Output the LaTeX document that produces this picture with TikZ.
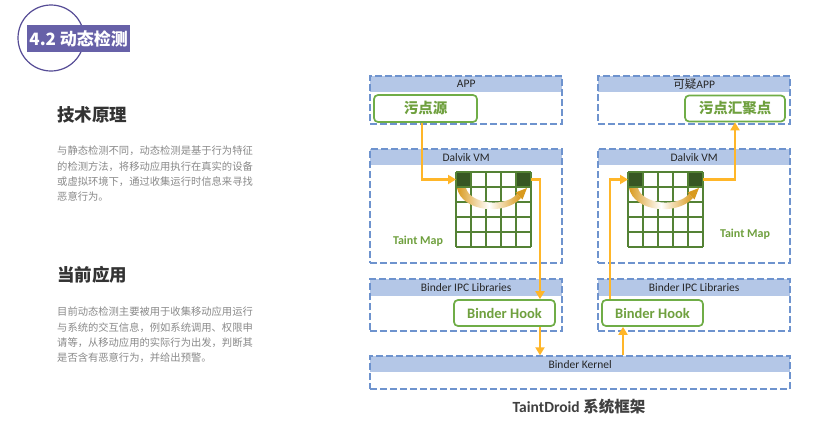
\documentclass[tikz,border=0pt]{standalone}
\usepackage{fontspec}
\setmainfont{Carlito}
\newfontfamily\cjk{Noto Sans CJK SC}
\usetikzlibrary{arrows.meta}
\definecolor{hdrblue}{HTML}{B4C7E7}
\definecolor{dashblue}{HTML}{6E93CE}
\definecolor{gboxc}{HTML}{70AD47}
\definecolor{gtext}{HTML}{6FA03E}
\definecolor{gridc}{HTML}{548235}
\definecolor{darkg}{HTML}{375623}
\definecolor{flowc}{HTML}{FFB629}
\definecolor{curvc}{HTML}{D99A1E}
\definecolor{purp}{HTML}{6761A8}
\definecolor{purpline}{HTML}{564C96}
\definecolor{headc}{HTML}{333333}
\definecolor{parac}{HTML}{8A8A8A}
\definecolor{capc}{HTML}{404040}

% name, x1, y1, x2, y2, header bottom, title
\newcommand\layerbox[7]{%
  \node[hdr, minimum width={(#4-#2)*1pt}, minimum height={(#6-#3)*1pt}, anchor=north west] (#1-h) at (#2,#3) {#7};
  \node[layer, minimum width={(#4-#2)*1pt}, minimum height={(#5-#3)*1pt}] (#1) at ({(#2+#4)/2},{(#3+#5)/2}) {};
}
% name, x0, y0
\newcommand\taintgrid[3]{%
  \begin{scope}[shift={(#2,#3)}]
    \fill[white] (0,0) rectangle (75,75);
    \fill[darkg] (0,0) rectangle (15,15);
    \fill[darkg] (60,0) rectangle (75,15);
    \foreach \i in {0,...,5} {
      \draw[gridc, line width=1.3pt] ({15*\i},0) -- ({15*\i},75);
      \draw[gridc, line width=1.3pt] (0,{15*\i}) -- (75,{15*\i});
    }
    \coordinate (#1-in) at (0,7.5);
    \coordinate (#1-out) at (75,7.5);
    \shade[left color=curvc, right color=curvc, middle color=white]
      (10,16) .. controls (14,32) and (49,36) .. (61,22)
      -- (65,26) .. controls (49,44) and (6,40) .. (1,16) -- cycle;
    \fill[curvc] (71,16) -- (59.5,20.5) -- (66.5,27.5) -- cycle;
  \end{scope}
}

\begin{document}
\begin{tikzpicture}[x=1pt,y=-1pt,
  layer/.style={draw=dashblue, line width=1.4pt, dash pattern=on 7pt off 3pt, fill=none, inner sep=0},
  hdr/.style={fill=hdrblue, inner sep=0, font=\fontsize{11.5}{13}\selectfont, text=black!85},
  gbox/.style={draw=gboxc, line width=1.7pt, rounded corners=4pt, fill=white, inner sep=0, text=gtext, font=\fontsize{14.5}{16}\selectfont\bfseries},
  flow/.style={draw=flowc, line width=2.6pt, -{Triangle[length=8pt,width=9pt]}},
  headtxt/.style={anchor=west, inner sep=0, text=headc, font=\cjk\fontsize{17.5}{20}\selectfont\bfseries},
  paratxt/.style={anchor=base west, inner sep=0, text=parac, font=\cjk\fontsize{10.3}{12}\selectfont},
  tmap/.style={text=gtext, inner sep=0, font=\fontsize{12}{14}\selectfont\bfseries},
]
\fill[white] (0,0) rectangle (831,426);
\useasboundingbox (0,0) rectangle (831,426);

% title
\draw[purpline, line width=1.2pt] (51,38) circle[radius=33];
\node[fill=purp, minimum width=103pt, minimum height=27pt, inner sep=0, anchor=north west,
      text=white, font=\cjk\fontsize{17}{20}\selectfont\bfseries] (title) at (27,25) {4.2 动态检测};

% left texts
\node[headtxt] (h1) at (57,115) {技术原理};
\node[paratxt] (p1a) at (57,154) {与静态检测不同，动态检测是基于行为特征};
\node[paratxt] (p1b) at (57,170) {的检测方法，将移动应用执行在真实的设备};
\node[paratxt] (p1c) at (57,185) {或虚拟环境下，通过收集运行时信息来寻找};
\node[paratxt] (p1d) at (57,200) {恶意行为。};

\node[headtxt] (h2) at (57,275) {当前应用};
\node[paratxt] (p2a) at (57,315) {目前动态检测主要被用于收集移动应用运行};
\node[paratxt] (p2b) at (57,331) {与系统的交互信息，例如系统调用、权限申};
\node[paratxt] (p2c) at (57,346) {请等，从移动应用的实际行为出发，判断其};
\node[paratxt] (p2d) at (57,361) {是否含有恶意行为，并给出预警。};

% layers
\layerbox{app}{370}{76}{562}{124}{92}{APP}
\layerbox{vmL}{370}{149}{562}{263}{165}{Dalvik VM}
\layerbox{ipcL}{370}{279}{562}{331}{296}{Binder IPC Libraries}
\layerbox{appR}{598}{76}{790}{124}{92}{{\cjk 可疑}APP}
\layerbox{vmR}{598}{149}{790}{263}{165}{Dalvik VM}
\layerbox{ipcR}{598}{279}{790}{331}{296}{Binder IPC Libraries}
\layerbox{kernel}{370}{356}{790}{389}{372}{Binder Kernel}

% green boxes
\node[gbox, minimum width=103pt, minimum height=27pt] (src) at (425.5,108.5) {\cjk 污点源};
\node[gbox, minimum width=100pt, minimum height=26pt] (sink) at (735,108.5) {\cjk 污点汇聚点};
\node[gbox, minimum width=101pt, minimum height=26pt] (hookL) at (504.5,313) {Binder Hook};
\node[gbox, minimum width=101pt, minimum height=26pt] (hookR) at (652.5,313) {Binder Hook};

% grids
\taintgrid{gL}{456}{172}
\taintgrid{gR}{628}{172}
\node[tmap] (tmL) at (418,241) {Taint Map};
\node[tmap] (tmR) at (745,234) {Taint Map};

% flows
\coordinate (srcx) at ([xshift=-3.5pt]src.south);
\coordinate (hLt) at ([xshift=35.5pt]hookL.north);
\coordinate (hLb) at ([xshift=35.5pt]hookL.south);
\coordinate (hRb) at ([xshift=-29.5pt]hookR.south);
\coordinate (hRt) at ([xshift=-42.5pt]hookR.north);
\draw[flow] (srcx) |- (gL-in);
\draw[flow] (gL-out) -| (hLt);
\draw[flow] (hLb) -- (hLb |- kernel.north);
\draw[flow] (hRb |- kernel.north) -- (hRb);
\draw[flow] (hRt) |- (gR-in);
\draw[flow] (gR-out) -| (sink.south);

% caption
\node[text=capc, font=\fontsize{15.5}{18}\selectfont\bfseries] (cap) at (579,407) {TaintDroid {\cjk 系统框架}};
\end{tikzpicture}
\end{document}
